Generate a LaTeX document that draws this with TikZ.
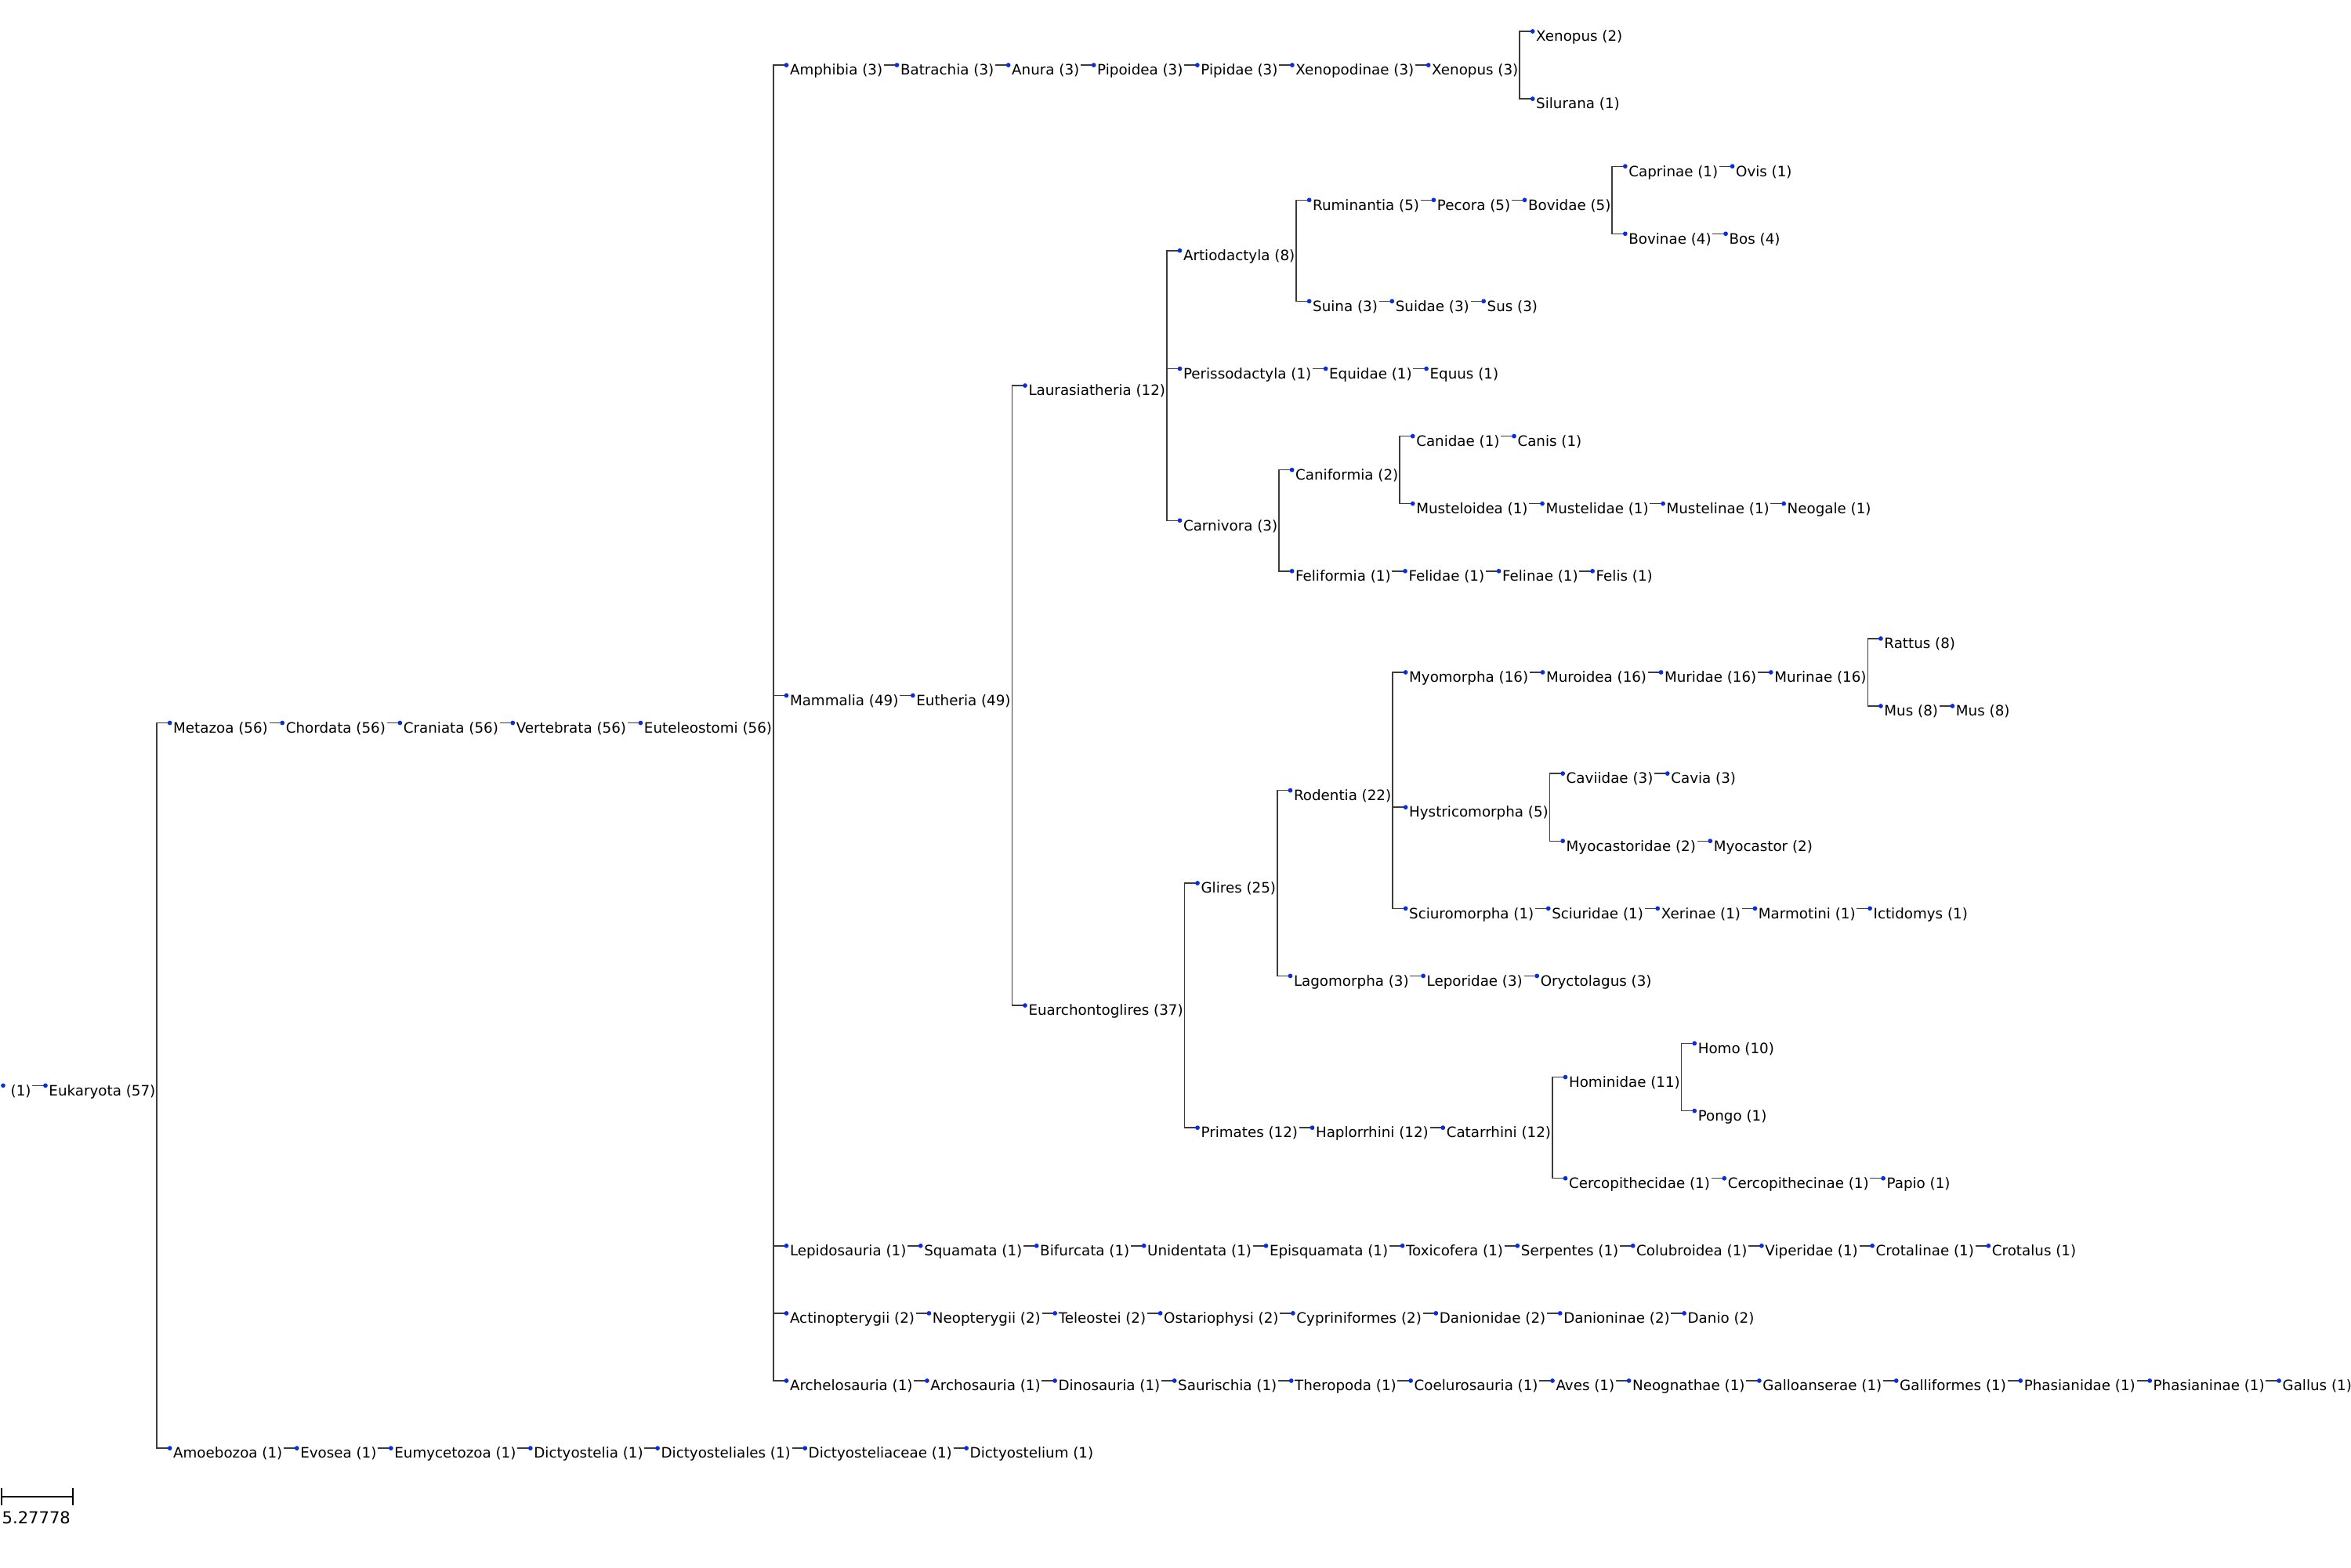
\documentclass[tikz,border=0pt]{standalone}
\usepackage{fontspec}
\setmainfont{DejaVu Sans}
\usetikzlibrary{positioning}
\usetikzlibrary{arrows.meta}
\definecolor{taxdot}{RGB}{10,45,225}
\definecolor{taxline}{RGB}{60,60,60}

\begin{document}
\begin{tikzpicture}[
  node distance=0.195cm,
  taxon/.style={anchor=west,inner xsep=0.01cm,inner ysep=0pt,text height=0.78em,text depth=0.05em,font=\fontsize{5.2pt}{6.2pt}\selectfont},
  lift/.style={yshift=#1*0.861cm},
  taxlink/.style={draw=taxline,line width=0.4pt,to path={|- (\tikztotarget)},-{Circle[length=1.6pt,color=taxdot,fill=taxdot]}}
]
\useasboundingbox (0,0) rectangle (30,-20);

% root and first split
\node[taxon] (root) at (0.12,-13.853) {(1)};
\fill[taxdot] ([xshift=-0.08cm]root.west) circle (0.8pt);
\node[taxon, right=of root] (euk) {Eukaryota (57)};

% Metazoa
\node[taxon, right=of euk, lift=5.375] (meta) {Metazoa (56)};
\node[taxon, right=of meta] (chor) {Chordata (56)};
\node[taxon, right=of chor] (cran) {Craniata (56)};
\node[taxon, right=of cran] (vert) {Vertebrata (56)};
\node[taxon, right=of vert] (eute) {Euteleostomi (56)};

% Amphibia
\node[taxon, right=of eute, lift=9.75] (amph) {Amphibia (3)};
\node[taxon, right=of amph] (batr) {Batrachia (3)};
\node[taxon, right=of batr] (anur) {Anura (3)};
\node[taxon, right=of anur] (pipo) {Pipoidea (3)};
\node[taxon, right=of pipo] (pipi) {Pipidae (3)};
\node[taxon, right=of pipi] (xepd) {Xenopodinae (3)};
\node[taxon, right=of xepd] (xen3) {Xenopus (3)};
\node[taxon, right=of xen3, lift=0.5] (xen2) {Xenopus (2)};
\node[taxon, right=of xen3, lift=-0.5] (silu) {Silurana (1)};

% Mammalia
\node[taxon, right=of eute, lift=0.40625] (mamm) {Mammalia (49)};
\node[taxon, right=of mamm] (euth) {Eutheria (49)};
\node[taxon, right=of euth, lift=4.59375] (laur) {Laurasiatheria (12)};
\node[taxon, right=of laur, lift=2] (arti) {Artiodactyla (8)};
\node[taxon, right=of arti, lift=0.75] (rumi) {Ruminantia (5)};
\node[taxon, right=of rumi] (peco) {Pecora (5)};
\node[taxon, right=of peco] (bovi) {Bovidae (5)};
\node[taxon, right=of bovi, lift=0.5] (capr) {Caprinae (1)};
\node[taxon, right=of capr] (ovis) {Ovis (1)};
\node[taxon, right=of bovi, lift=-0.5] (bovn) {Bovinae (4)};
\node[taxon, right=of bovn] (bos) {Bos (4)};
\node[taxon, right=of arti, lift=-0.75] (suin) {Suina (3)};
\node[taxon, right=of suin] (suid) {Suidae (3)};
\node[taxon, right=of suid] (sus) {Sus (3)};
\node[taxon, right=of laur, lift=0.25] (peri) {Perissodactyla (1)};
\node[taxon, right=of peri] (equi) {Equidae (1)};
\node[taxon, right=of equi] (equu) {Equus (1)};
\node[taxon, right=of laur, lift=-2] (carn) {Carnivora (3)};
\node[taxon, right=of carn, lift=0.75] (canf) {Caniformia (2)};
\node[taxon, right=of canf, lift=0.5] (cand) {Canidae (1)};
\node[taxon, right=of cand] (canis) {Canis (1)};
\node[taxon, right=of canf, lift=-0.5] (musl) {Musteloidea (1)};
\node[taxon, right=of musl] (musd) {Mustelidae (1)};
\node[taxon, right=of musd] (musn) {Mustelinae (1)};
\node[taxon, right=of musn] (neog) {Neogale (1)};
\node[taxon, right=of carn, lift=-0.75] (felf) {Feliformia (1)};
\node[taxon, right=of felf] (feld) {Felidae (1)};
\node[taxon, right=of feld] (feln) {Felinae (1)};
\node[taxon, right=of feln] (felis) {Felis (1)};

\node[taxon, right=of euth, lift=-4.59375] (euar) {Euarchontoglires (37)};
\node[taxon, right=of euar, lift=1.8125] (glir) {Glires (25)};
\node[taxon, right=of glir, lift=1.375] (rode) {Rodentia (22)};
\node[taxon, right=of rode, lift=1.75] (myom) {Myomorpha (16)};
\node[taxon, right=of myom] (muro) {Muroidea (16)};
\node[taxon, right=of muro] (muri) {Muridae (16)};
\node[taxon, right=of muri] (murn) {Murinae (16)};
\node[taxon, right=of murn, lift=0.5] (ratt) {Rattus (8)};
\node[taxon, right=of murn, lift=-0.5] (musa) {Mus (8)};
\node[taxon, right=of musa] (musb) {Mus (8)};
\node[taxon, right=of rode, lift=-0.25] (hyst) {Hystricomorpha (5)};
\node[taxon, right=of hyst, lift=0.5] (cavd) {Caviidae (3)};
\node[taxon, right=of cavd] (cavi) {Cavia (3)};
\node[taxon, right=of hyst, lift=-0.5] (myod) {Myocastoridae (2)};
\node[taxon, right=of myod] (myoc) {Myocastor (2)};
\node[taxon, right=of rode, lift=-1.75] (scim) {Sciuromorpha (1)};
\node[taxon, right=of scim] (scid) {Sciuridae (1)};
\node[taxon, right=of scid] (xeri) {Xerinae (1)};
\node[taxon, right=of xeri] (marm) {Marmotini (1)};
\node[taxon, right=of marm] (icti) {Ictidomys (1)};
\node[taxon, right=of glir, lift=-1.375] (lago) {Lagomorpha (3)};
\node[taxon, right=of lago] (lepo) {Leporidae (3)};
\node[taxon, right=of lepo] (oryc) {Oryctolagus (3)};
\node[taxon, right=of euar, lift=-1.8125] (prim) {Primates (12)};
\node[taxon, right=of prim] (hapl) {Haplorrhini (12)};
\node[taxon, right=of hapl] (cata) {Catarrhini (12)};
\node[taxon, right=of cata, lift=0.75] (homd) {Hominidae (11)};
\node[taxon, right=of homd, lift=0.5] (homo) {Homo (10)};
\node[taxon, right=of homd, lift=-0.5] (pong) {Pongo (1)};
\node[taxon, right=of cata, lift=-0.75] (cerd) {Cercopithecidae (1)};
\node[taxon, right=of cerd] (cern) {Cercopithecinae (1)};
\node[taxon, right=of cern] (papi) {Papio (1)};

% Lepidosauria
\node[taxon, right=of eute, lift=-7.75] (lepi) {Lepidosauria (1)};
\node[taxon, right=of lepi] (squa) {Squamata (1)};
\node[taxon, right=of squa] (bifu) {Bifurcata (1)};
\node[taxon, right=of bifu] (unid) {Unidentata (1)};
\node[taxon, right=of unid] (epis) {Episquamata (1)};
\node[taxon, right=of epis] (toxi) {Toxicofera (1)};
\node[taxon, right=of toxi] (serp) {Serpentes (1)};
\node[taxon, right=of serp] (colu) {Colubroidea (1)};
\node[taxon, right=of colu] (vipe) {Viperidae (1)};
\node[taxon, right=of vipe] (crtn) {Crotalinae (1)};
\node[taxon, right=of crtn] (crts) {Crotalus (1)};

% Actinopterygii
\node[taxon, right=of eute, lift=-8.75] (acti) {Actinopterygii (2)};
\node[taxon, right=of acti] (neop) {Neopterygii (2)};
\node[taxon, right=of neop] (tele) {Teleostei (2)};
\node[taxon, right=of tele] (osta) {Ostariophysi (2)};
\node[taxon, right=of osta] (cypr) {Cypriniformes (2)};
\node[taxon, right=of cypr] (dand) {Danionidae (2)};
\node[taxon, right=of dand] (dann) {Danioninae (2)};
\node[taxon, right=of dann] (dani) {Danio (2)};

% Archelosauria
\node[taxon, right=of eute, lift=-9.75] (arce) {Archelosauria (1)};
\node[taxon, right=of arce] (arco) {Archosauria (1)};
\node[taxon, right=of arco] (dino) {Dinosauria (1)};
\node[taxon, right=of dino] (saur) {Saurischia (1)};
\node[taxon, right=of saur] (ther) {Theropoda (1)};
\node[taxon, right=of ther] (coel) {Coelurosauria (1)};
\node[taxon, right=of coel] (aves) {Aves (1)};
\node[taxon, right=of aves] (neon) {Neognathae (1)};
\node[taxon, right=of neon] (gals) {Galloanserae (1)};
\node[taxon, right=of gals] (galf) {Galliformes (1)};
\node[taxon, right=of galf] (phad) {Phasianidae (1)};
\node[taxon, right=of phad] (phan) {Phasianinae (1)};
\node[taxon, right=of phan] (gall) {Gallus (1)};

% Amoebozoa
\node[taxon, right=of euk, lift=-5.375] (amoe) {Amoebozoa (1)};
\node[taxon, right=of amoe] (evos) {Evosea (1)};
\node[taxon, right=of evos] (eumy) {Eumycetozoa (1)};
\node[taxon, right=of eumy] (dicy) {Dictyostelia (1)};
\node[taxon, right=of dicy] (dics) {Dictyosteliales (1)};
\node[taxon, right=of dics] (dicc) {Dictyosteliaceae (1)};
\node[taxon, right=of dicc] (dict) {Dictyostelium (1)};

\path (root.east) edge[taxlink] (euk.west)
(euk.east) edge[taxlink] (meta.west) (euk.east) edge[taxlink] (amoe.west)
(meta.east) edge[taxlink] (chor.west) (chor.east) edge[taxlink] (cran.west)
(cran.east) edge[taxlink] (vert.west) (vert.east) edge[taxlink] (eute.west)
(eute.east) edge[taxlink] (amph.west) (eute.east) edge[taxlink] (mamm.west)
(eute.east) edge[taxlink] (lepi.west) (eute.east) edge[taxlink] (acti.west)
(eute.east) edge[taxlink] (arce.west)
(amph.east) edge[taxlink] (batr.west) (batr.east) edge[taxlink] (anur.west)
(anur.east) edge[taxlink] (pipo.west) (pipo.east) edge[taxlink] (pipi.west)
(pipi.east) edge[taxlink] (xepd.west) (xepd.east) edge[taxlink] (xen3.west)
(xen3.east) edge[taxlink] (xen2.west) (xen3.east) edge[taxlink] (silu.west)
(mamm.east) edge[taxlink] (euth.west)
(euth.east) edge[taxlink] (laur.west) (euth.east) edge[taxlink] (euar.west)
(laur.east) edge[taxlink] (arti.west) (laur.east) edge[taxlink] (peri.west)
(laur.east) edge[taxlink] (carn.west)
(arti.east) edge[taxlink] (rumi.west) (arti.east) edge[taxlink] (suin.west)
(rumi.east) edge[taxlink] (peco.west) (peco.east) edge[taxlink] (bovi.west)
(bovi.east) edge[taxlink] (capr.west) (bovi.east) edge[taxlink] (bovn.west)
(capr.east) edge[taxlink] (ovis.west) (bovn.east) edge[taxlink] (bos.west)
(suin.east) edge[taxlink] (suid.west) (suid.east) edge[taxlink] (sus.west)
(peri.east) edge[taxlink] (equi.west) (equi.east) edge[taxlink] (equu.west)
(carn.east) edge[taxlink] (canf.west) (carn.east) edge[taxlink] (felf.west)
(canf.east) edge[taxlink] (cand.west) (canf.east) edge[taxlink] (musl.west)
(cand.east) edge[taxlink] (canis.west)
(musl.east) edge[taxlink] (musd.west) (musd.east) edge[taxlink] (musn.west)
(musn.east) edge[taxlink] (neog.west)
(felf.east) edge[taxlink] (feld.west) (feld.east) edge[taxlink] (feln.west)
(feln.east) edge[taxlink] (felis.west)
(euar.east) edge[taxlink] (glir.west) (euar.east) edge[taxlink] (prim.west)
(glir.east) edge[taxlink] (rode.west) (glir.east) edge[taxlink] (lago.west)
(rode.east) edge[taxlink] (myom.west) (rode.east) edge[taxlink] (hyst.west)
(rode.east) edge[taxlink] (scim.west)
(myom.east) edge[taxlink] (muro.west) (muro.east) edge[taxlink] (muri.west)
(muri.east) edge[taxlink] (murn.west)
(murn.east) edge[taxlink] (ratt.west) (murn.east) edge[taxlink] (musa.west)
(musa.east) edge[taxlink] (musb.west)
(hyst.east) edge[taxlink] (cavd.west) (hyst.east) edge[taxlink] (myod.west)
(cavd.east) edge[taxlink] (cavi.west) (myod.east) edge[taxlink] (myoc.west)
(scim.east) edge[taxlink] (scid.west) (scid.east) edge[taxlink] (xeri.west)
(xeri.east) edge[taxlink] (marm.west) (marm.east) edge[taxlink] (icti.west)
(lago.east) edge[taxlink] (lepo.west) (lepo.east) edge[taxlink] (oryc.west)
(prim.east) edge[taxlink] (hapl.west) (hapl.east) edge[taxlink] (cata.west)
(cata.east) edge[taxlink] (homd.west) (cata.east) edge[taxlink] (cerd.west)
(homd.east) edge[taxlink] (homo.west) (homd.east) edge[taxlink] (pong.west)
(cerd.east) edge[taxlink] (cern.west) (cern.east) edge[taxlink] (papi.west)
(lepi.east) edge[taxlink] (squa.west) (squa.east) edge[taxlink] (bifu.west)
(bifu.east) edge[taxlink] (unid.west) (unid.east) edge[taxlink] (epis.west)
(epis.east) edge[taxlink] (toxi.west) (toxi.east) edge[taxlink] (serp.west)
(serp.east) edge[taxlink] (colu.west) (colu.east) edge[taxlink] (vipe.west)
(vipe.east) edge[taxlink] (crtn.west) (crtn.east) edge[taxlink] (crts.west)
(acti.east) edge[taxlink] (neop.west) (neop.east) edge[taxlink] (tele.west)
(tele.east) edge[taxlink] (osta.west) (osta.east) edge[taxlink] (cypr.west)
(cypr.east) edge[taxlink] (dand.west) (dand.east) edge[taxlink] (dann.west)
(dann.east) edge[taxlink] (dani.west)
(arce.east) edge[taxlink] (arco.west) (arco.east) edge[taxlink] (dino.west)
(dino.east) edge[taxlink] (saur.west) (saur.east) edge[taxlink] (ther.west)
(ther.east) edge[taxlink] (coel.west) (coel.east) edge[taxlink] (aves.west)
(aves.east) edge[taxlink] (neon.west) (neon.east) edge[taxlink] (gals.west)
(gals.east) edge[taxlink] (galf.west) (galf.east) edge[taxlink] (phad.west)
(phad.east) edge[taxlink] (phan.west) (phan.east) edge[taxlink] (gall.west)
(amoe.east) edge[taxlink] (evos.west) (evos.east) edge[taxlink] (eumy.west)
(eumy.east) edge[taxlink] (dicy.west) (dicy.east) edge[taxlink] (dics.west)
(dics.east) edge[taxlink] (dicc.west) (dicc.east) edge[taxlink] (dict.west)
;

% scale bar
\draw[line width=0.6pt] (0.02,-18.99) -- (0.02,-19.21)
  (0.02,-19.10) -- (0.93,-19.10)
  (0.93,-18.99) -- (0.93,-19.21);
\node[anchor=west,inner sep=0pt,font=\fontsize{6pt}{7pt}\selectfont] (scale) at (0.02,-19.37) {5.27778};

\end{tikzpicture}
\end{document}
